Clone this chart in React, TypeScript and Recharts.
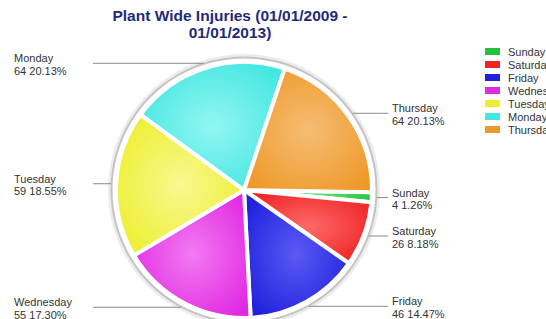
import React from 'react';
import { PieChart, Pie, Cell } from 'recharts';

const days = ['Sunday', 'Saturday', 'Friday', 'Wednesday', 'Tuesday', 'Monday', 'Thursday'];
const injuries = [4, 26, 46, 55, 59, 64, 64];
const colors = ['#22c23a', '#ee2222', '#2020dd', '#e22ae2', '#eeee30', '#44e6e2', '#ee9a2a'];
const lightColors = ['#6ee27e', '#ff6a6a', '#5a5af5', '#f27af2', '#f8f890', '#92f6f2', '#f6bd74'];

const data = days.map((name, i) => ({ name, value: injuries[i] }));
const total = injuries.reduce((a, b) => a + b, 0);

const W = 546;
const H = 319;
const CX = 239;
const CY = 185;
const R = 128;
const RING = 133;
const RADIAN = Math.PI / 180;

// horizontal leader from the outer ring to the label column on either side
const renderLabel = (props: any) => {
  const { cx, cy, midAngle, name, value } = props;
  const x = cx + RING * Math.cos(-midAngle * RADIAN);
  const y = cy + RING * Math.sin(-midAngle * RADIAN);
  const left = x < cx;
  const pct = ((value / total) * 100).toFixed(2);
  const lineEnd = left ? 93 : 388;
  const textX = left ? 14 : 392;
  return (
    <g>
      <line x1={x} y1={y} x2={lineEnd} y2={y} stroke="#8a8a8a" strokeWidth={1} />
      <text x={textX} y={y} fill="#333" fontSize={11} fontFamily="Liberation Sans, Arial, sans-serif">
        <tspan x={textX} dy={-1}>{name}</tspan>
        <tspan x={textX} dy={12.5}>{`${value} ${pct}%`}</tspan>
      </text>
    </g>
  );
};

export default function App() {
  return (
    <div style={{ position: 'absolute', left: 0, top: 0, width: W, height: H, background: '#fff', fontFamily: 'Liberation Sans, Arial, sans-serif' }}>
      <PieChart width={W} height={H}>
        <defs>
          {colors.map((c, i) => (
            <radialGradient key={`g-${i}`} id={`grad-${i}`} cx="50%" cy="50%" r="60%">
              <stop offset="0%" stopColor={lightColors[i]} />
              <stop offset="100%" stopColor={c} />
            </radialGradient>
          ))}
        </defs>
        <Pie
          data={[{ name: 'shadow', value: 1 }]}
          dataKey="value"
          cx={CX}
          cy={CY}
          outerRadius={RING + 3}
          innerRadius={RING - 1}
          fill="#ececec"
          stroke="none"
          isAnimationActive={false}
          label={false}
        />
        <Pie
          data={[{ name: 'ring', value: 1 }]}
          dataKey="value"
          cx={CX}
          cy={CY}
          outerRadius={RING + 0.5}
          innerRadius={RING - 1.5}
          fill="#c4c4c4"
          stroke="none"
          isAnimationActive={false}
          label={false}
        />
        <Pie
          data={data}
          dataKey="value"
          nameKey="name"
          cx={CX}
          cy={CY}
          outerRadius={R}
          startAngle={-1}
          endAngle={-361}
          stroke="#fff"
          strokeWidth={4}
          isAnimationActive={false}
          labelLine={false}
          label={renderLabel}
        >
          {data.map((d, i) => (
            <Cell key={d.name} fill={`url(#grad-${i})`} />
          ))}
        </Pie>
      </PieChart>
      <div style={{ position: 'absolute', left: 0, width: 460, top: 8, textAlign: 'center', color: '#232a7c', fontWeight: 'bold', fontSize: 15.5, lineHeight: '16.5px' }}>
        Plant Wide Injuries (01/01/2009 -<br />01/01/2013)
      </div>
      <div style={{ position: 'absolute', left: 485, top: 45, width: 61, overflow: 'hidden', whiteSpace: 'nowrap' }}>
        {days.map((d, i) => (
          <div key={d} style={{ height: 13, display: 'flex', alignItems: 'center', fontSize: 11, color: '#333' }}>
            <span style={{ display: 'inline-block', width: 15, height: 7, background: colors[i], marginRight: 8, flexShrink: 0 }} />
            {d}
          </div>
        ))}
      </div>
    </div>
  );
}
